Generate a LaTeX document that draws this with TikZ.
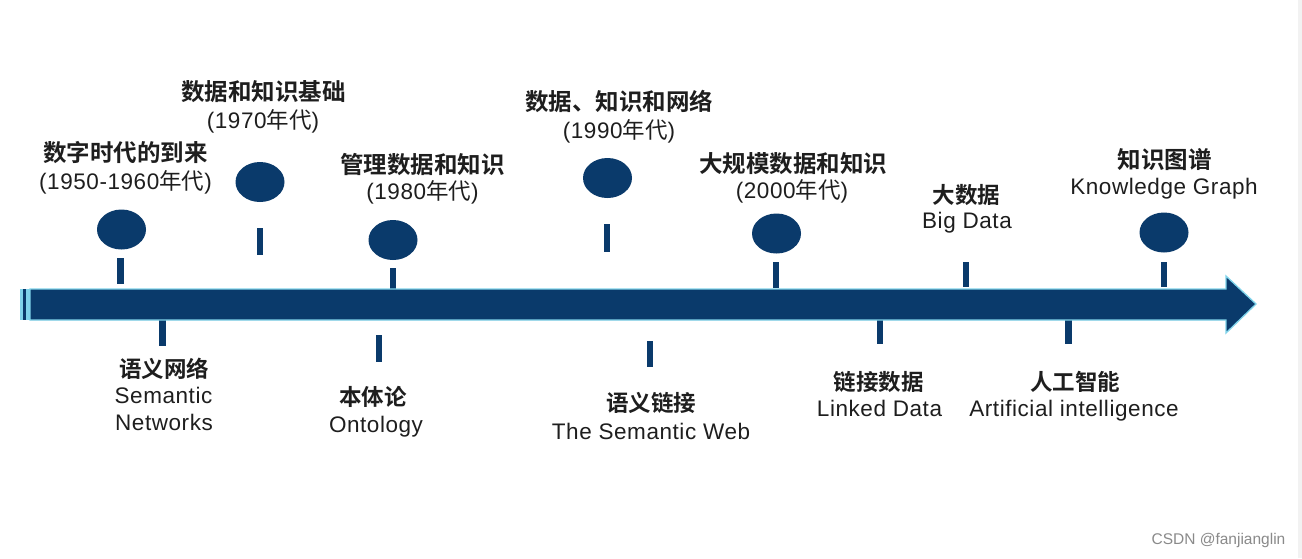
\documentclass[tikz,border=0pt]{standalone}
\usepackage{fontspec}
\usetikzlibrary{shapes.geometric}
\newfontfamily\lat{Liberation Sans}[LetterSpace=2.5]
\newfontfamily\latplain{Liberation Sans}
\newfontfamily\cjk{Noto Sans CJK SC}[BoldFont={Noto Sans CJK SC Bold}]
\definecolor{navy}{HTML}{0A3A6B}
\definecolor{edge}{HTML}{7FD3EA}
\definecolor{ink}{HTML}{1E1E1E}
\definecolor{wm}{HTML}{8A8A8A}
\definecolor{strip}{HTML}{F2F2F2}
\newcommand\yrs[1]{{\lat(#1}{\cjk 年代}{\lat)}}
\tikzset{
  dot/.style={ellipse, fill=navy, draw=none, minimum width=49pt, minimum height=40pt, inner sep=0pt},
  tick/.style={rectangle, fill=navy, draw=none, inner sep=0pt, minimum width=6.5pt, minimum height=#1},
  tophead/.style={font=\cjk\bfseries\fontsize{23.5}{26}\selectfont, text=ink, inner sep=0pt, anchor=base},
  lowhead/.style={font=\cjk\bfseries\fontsize{22.5}{25}\selectfont, text=ink, inner sep=0pt, anchor=base},
  sub/.style={font=\lat\fontsize{22.5}{25}\selectfont, text=ink, inner sep=0pt, anchor=base},
}
\begin{document}
\begin{tikzpicture}[x=1pt,y=-1pt]
\useasboundingbox (0,0) rectangle (1302,558);
\fill[white] (0,0) rectangle (1302,558);
\fill[strip] (1298,0) rectangle (1302,558);

% ticks above the bar
\node[tick=26pt] (t1) at (120.5,271) {};
\node[tick=27pt] (t2) at (260,241.5) {};
\node[tick=22pt] (t3) at (393,279) {};
\node[tick=28pt] (t4) at (607,238) {};
\node[tick=26pt] (t5) at (776,275) {};
\node[tick=25pt] (t6) at (966,274.5) {};
\node[tick=25pt] (t7) at (1164,274.5) {};
% ticks below the bar
\node[tick=28pt] (b1) at (162.5,332) {};
\node[tick=27pt] (b2) at (379,348.5) {};
\node[tick=26pt] (b3) at (650,354) {};
\node[tick=25pt] (b4) at (880,331.5) {};
\node[tick=25pt] (b5) at (1068.5,331.5) {};

% the time arrow
\path[fill=navy, draw=edge, line width=1.3pt, line join=miter]
  (30,289) -- (1226,289) -- (1226,276) -- (1256,304) -- (1226,333) -- (1226,320) -- (30,320) -- cycle;
\fill[edge] (20,289) rectangle (30,320);
\fill[navy] (22.7,289) rectangle (26,320);

% dots
\node[dot] (c1) at (121.5,229.5) {};
\node[dot] (c2) at (260,182) {};
\node[dot] (c3) at (393,240) {};
\node[dot] (c4) at (607.5,178) {};
\node[dot] (c5) at (776.5,233.5) {};
\node[dot] (c6) at (1164,232.5) {};

% upper labels
\node[tophead] (h1) at (125.5,161) {数字时代的到来};
\node[sub] (y1) at (125.5,189) {\yrs{1950-1960}};
\node[tophead] (h2) at (263.5,100) {数据和知识基础};
\node[sub] (y2) at (263,128) {\yrs{1970}};
\node[tophead] (h3) at (422.5,173) {管理数据和知识};
\node[sub] (y3) at (422.5,199) {\yrs{1980}};
\node[tophead] (h4) at (619,110) {数据、知识和网络};
\node[sub] (y4) at (619,138) {\yrs{1990}};
\node[tophead] (h5) at (793,172) {大规模数据和知识};
\node[sub] (y5) at (792,198) {\yrs{2000}};
\node[lowhead] (h6) at (966.5,203) {大数据};
\node[sub] (y6) at (967,228) {Big Data};
\node[tophead] (h7) at (1164.5,168) {知识图谱};
\node[sub] (y7) at (1164,194) {Knowledge Graph};

% lower labels
\node[lowhead] (l1) at (164,377) {语义网络};
\node[sub] (e1a) at (163.5,403) {Semantic};
\node[sub] (e1b) at (164,430) {Networks};
\node[lowhead] (l2) at (373,405) {本体论};
\node[sub] (e2) at (376,432.5) {Ontology};
\node[lowhead] (l3) at (651,411) {语义链接};
\node[sub] (e3) at (651,439) {The Semantic Web};
\node[lowhead] (l4) at (878.5,390) {链接数据};
\node[sub] (e4) at (879.5,416) {Linked Data};
\node[lowhead] (l5) at (1075,390) {人工智能};
\node[sub] (e5) at (1074,416) {Artificial intelligence};

% watermark
\node[font=\latplain\fontsize{15.5}{18}\selectfont, text=wm, inner sep=0pt, anchor=base] (wm) at (1218.5,544.5) {CSDN @fanjianglin};
\end{tikzpicture}
\end{document}
